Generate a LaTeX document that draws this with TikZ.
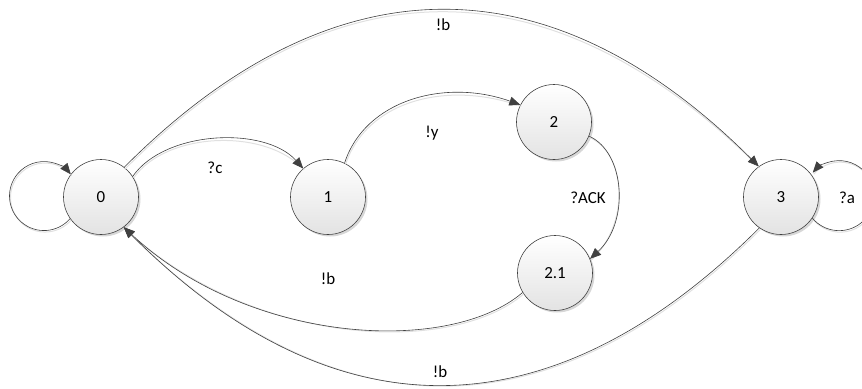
\documentclass[tikz,border=0pt]{standalone}
\usepackage{fontspec}
\setmainfont{Carlito}
\usetikzlibrary{arrows.meta,shadows}
\definecolor{edgegray}{HTML}{404040}
\begin{document}
\begin{tikzpicture}[x=1bp,y=-1bp,
  state/.style={circle, draw=edgegray, line width=0.6bp, minimum size=75bp, inner sep=0pt,
    top color=white, bottom color=black!11,
    drop shadow={shadow xshift=2bp, shadow yshift=-2bp, fill=black!35, opacity=0.45},
    font=\fontsize{17}{19}\selectfont},
  lbl/.style={font=\fontsize{17}{19}\selectfont, inner sep=0pt},
  trans/.style={draw=edgegray, line width=0.6bp, -{Triangle[length=11bp,width=9bp]},
    preaction={draw=black!12, line width=1bp, arrows=-,
      transform canvas={shift={(1bp,-1.5bp)}}}}
]
\useasboundingbox (0,0) rectangle (862,388);
\clip (0,0) rectangle (862,388);

% states
\node[state] (s0)  at (101,197) {0};
\node[state] (s1)  at (328,197) {1};
\node[state] (s2)  at (554,122) {2};
\node[state] (s21) at (555,273) {2.1};
\node[state] (s3)  at (781,197) {3};

% self loops (y axis points down, so arc angles run clockwise on the page)
\draw[trans] (s0.215) arc[start angle=41, end angle=321, radius=34.5];
\draw[trans] (s3.-34) arc[start angle=140, end angle=-139, radius=35];

% transitions between states
\draw[trans] (s0.52) .. controls (333,-42) and (550,-42) .. (s3.126);
\draw[trans] (s0.33) .. controls (165,130) and (265,126) .. (s1.131);
\draw[trans] (s1.64) .. controls (365,100) and (445,78) .. (s2.153);
\draw[trans] (s2.-22) .. controls (625,152) and (630,222) .. (s21.22);
\draw[trans] (s21.211) .. controls (450,355) and (250,345) .. (s0.-53);
\draw[trans] (s3.235) .. controls (550,437) and (333,437) .. (s0.-53);

% labels
\node[lbl] (ltop) at (443,25)  {!b};
\node[lbl] (lc)   at (215,168) {?c};
\node[lbl] (ly)   at (432,133) {!y};
\node[lbl] (lack) at (588,198) {?ACK};
\node[lbl] (lmid) at (328,279) {!b};
\node[lbl] (lbot) at (440,372) {!b};
\node[lbl] (la)   at (847,198) {?a};
\end{tikzpicture}
\end{document}
